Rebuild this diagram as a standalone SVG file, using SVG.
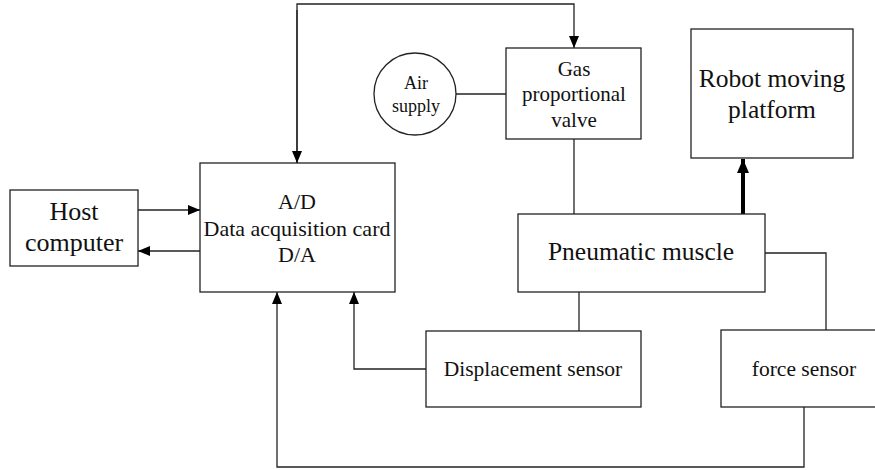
<svg xmlns="http://www.w3.org/2000/svg" width="875" height="470" viewBox="0 0 875 470">
<style>
.box{fill:#fff;stroke:#222;stroke-width:1.3}
.ln{fill:none;stroke:#222;stroke-width:1.3}
.thick{fill:none;stroke:#000;stroke-width:4}
.t{font-family:'Liberation Serif','Times New Roman',Times,serif;fill:#111;text-anchor:middle}
</style>
<defs>
<marker id="ah" viewBox="0 0 12 10" refX="12" refY="5" markerWidth="12" markerHeight="10" markerUnits="userSpaceOnUse" orient="auto">
<path d="M0,0 L12,5 L0,10 Z" fill="#000"/>
</marker>
<marker id="ahb" viewBox="0 0 14 12" refX="14" refY="6" markerWidth="14" markerHeight="12" markerUnits="userSpaceOnUse" orient="auto">
<path d="M0,0 L14,6 L0,12 Z" fill="#000"/>
</marker>
</defs>
<g id="connectors">
<path class="ln" d="M297,163 V4 H574 V48" marker-end="url(#ah)"/>
<path class="ln" d="M297,10 V163" marker-end="url(#ah)"/>
<line class="ln" x1="138" y1="210" x2="200" y2="210" marker-end="url(#ah)"/>
<line class="ln" x1="200" y1="251" x2="138" y2="251" marker-end="url(#ah)"/>
<line class="ln" x1="456" y1="94" x2="506" y2="94"/>
<line class="ln" x1="574" y1="139" x2="574" y2="214"/>
<line class="thick" x1="743" y1="214" x2="743" y2="159" marker-end="url(#ahb)"/>
<path class="ln" d="M765,253 H826 V330"/>
<line class="ln" x1="579" y1="292" x2="579" y2="331"/>
<path class="ln" d="M426,369 H354 V292" marker-end="url(#ah)"/>
<path class="ln" d="M804,407 V467 H277 V292" marker-end="url(#ah)"/>
</g>
<g id="host">
<rect class="box" x="10" y="190" width="128" height="76"/>
<text class="t" x="74" y="220" font-size="26">Host</text>
<text class="t" x="74" y="251" font-size="26">computer</text>
</g>
<g id="daq">
<rect class="box" x="200" y="163" width="195" height="129"/>
<text class="t" x="297" y="209" font-size="22">A/D</text>
<text class="t" x="297" y="236" font-size="22">Data acquisition card</text>
<text class="t" x="297" y="262" font-size="22">D/A</text>
</g>
<g id="air">
<circle class="box" cx="415" cy="94" r="41"/>
<text class="t" x="416" y="89" font-size="18">Air</text>
<text class="t" x="416" y="112" font-size="18">supply</text>
</g>
<g id="valve">
<rect class="box" x="506" y="48" width="135" height="91"/>
<text class="t" x="574" y="76" font-size="21">Gas</text>
<text class="t" x="574" y="101" font-size="21">proportional</text>
<text class="t" x="574" y="127" font-size="21">valve</text>
</g>
<g id="robot">
<rect class="box" x="691" y="29" width="162" height="129"/>
<text class="t" x="772" y="87" font-size="25.5">Robot moving</text>
<text class="t" x="772" y="118" font-size="25.5">platform</text>
</g>
<g id="muscle">
<rect class="box" x="518" y="214" width="247" height="78"/>
<text class="t" x="641" y="260" font-size="25.5">Pneumatic muscle</text>
</g>
<g id="displacement">
<rect class="box" x="426" y="331" width="215" height="76"/>
<text class="t" x="533" y="376" font-size="21.5">Displacement sensor</text>
</g>
<g id="force">
<rect class="box" x="721" y="330" width="156" height="77"/>
<text class="t" x="804" y="376" font-size="21.5">force sensor</text>
</g>
</svg>
